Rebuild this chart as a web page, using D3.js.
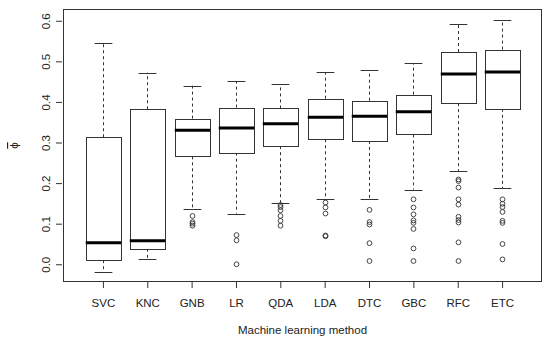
<!DOCTYPE html>
<html><head><meta charset="utf-8">
<script src="https://cdn.jsdelivr.net/npm/d3@7"></script>
<style>body{margin:0;background:#fff}svg{display:block}</style>
</head><body>
<svg id="c" width="550" height="341"></svg>
<script>
const methods = ["SVC","KNC","GNB","LR","QDA","LDA","DTC","GBC","RFC","ETC"];
const whiskerLow  = [-0.018, 0.013, 0.135, 0.125, 0.152, 0.160, 0.160, 0.184, 0.230, 0.187];
const q1          = [0.010, 0.038, 0.266, 0.275, 0.291, 0.308, 0.304, 0.320, 0.397, 0.383];
const medians     = [0.053, 0.058, 0.330, 0.336, 0.346, 0.362, 0.365, 0.376, 0.469, 0.474];
const q3          = [0.313, 0.382, 0.359, 0.386, 0.384, 0.408, 0.403, 0.418, 0.523, 0.529];
const whiskerHigh = [0.545, 0.472, 0.440, 0.451, 0.444, 0.474, 0.478, 0.495, 0.593, 0.603];
const outliers = [
  [],
  [],
  [0.119, 0.104, 0.100, 0.095],
  [0.072, 0.059, 0.0],
  [0.146, 0.141, 0.133, 0.119, 0.107, 0.095],
  [0.152, 0.140, 0.125, 0.071, 0.069],
  [0.134, 0.104, 0.098, 0.052, 0.008],
  [0.160, 0.140, 0.123, 0.108, 0.102, 0.087, 0.039, 0.008],
  [0.209, 0.205, 0.189, 0.160, 0.147, 0.117, 0.109, 0.103, 0.054, 0.008],
  [0.160, 0.149, 0.141, 0.129, 0.107, 0.102, 0.050, 0.012]
];
const yTicks = [0, 0.1, 0.2, 0.3, 0.4, 0.5, 0.6];
const xTitle = "Machine learning method";
const yTitle = "\u03D5";

const svg = d3.select("#c");
const L = 63, R = 542, T = 9, B = 282;
const font = "'Liberation Sans', Arial, sans-serif";
const ink = "#222";
const fs = 11.5;

const x = d3.scaleLinear().domain([0.1, 10.9]).range([L, R]);
const y = d3.scaleLinear().domain([-0.0437, 0.629]).range([B, T]);
const bw = x(1.8) - x(1);   // 0.8 box width in units
const sw = bw / 2;          // staple width

// frame
svg.append("rect").attr("x", L + 0.5).attr("y", T + 0.5)
  .attr("width", R - L - 1).attr("height", B - T - 1)
  .attr("fill", "none").attr("stroke", "#333").attr("stroke-width", 1);

// y axis
const yAxis = d3.axisLeft(y).tickValues(yTicks).tickFormat(d3.format(".1f")).tickSize(6).tickPadding(0);
const gy = svg.append("g").attr("transform", `translate(${L - 1},0)`).call(yAxis);
gy.select(".domain").remove();
gy.selectAll(".tick line").attr("stroke", "#333");
gy.selectAll(".tick text").attr("font-family", font).attr("font-size", fs).attr("fill", ink)
  .attr("x", null).attr("dy", null)
  .attr("text-anchor", "middle")
  .attr("transform", "translate(-16,0) rotate(-90)")
  .attr("y", 4);

// x axis
const gx = svg.append("g").attr("transform", `translate(0,${B})`)
  .call(d3.axisBottom(x).tickValues(d3.range(1, methods.length + 1)).tickFormat(i => methods[i - 1]).tickSize(6).tickPadding(0));
gx.select(".domain").remove();
gx.selectAll(".tick line").attr("stroke", "#333");
gx.selectAll(".tick text").attr("font-family", font).attr("font-size", fs).attr("fill", ink)
  .attr("y", 25).attr("dy", 0);

// titles
svg.append("text").attr("x", (L + R) / 2).attr("y", 334).attr("text-anchor", "middle")
  .attr("font-family", font).attr("font-size", fs).attr("fill", ink).text(xTitle);
svg.append("text").attr("transform", `translate(18,${(T + B) / 2}) rotate(-90)`).attr("text-anchor", "middle")
  .attr("font-family", font).attr("font-size", fs).attr("fill", ink)
  .style("text-decoration", "overline").text(yTitle);

// boxes
const data = methods.map((m, i) => ({
  m, i: i + 1, lo: whiskerLow[i], q1: q1[i], med: medians[i], q3: q3[i], hi: whiskerHigh[i], out: outliers[i]
}));
const g = svg.append("g");
data.forEach(d => {
  const cx = Math.round(x(d.i)) + 0.5;
  const gg = g.append("g");
  // whiskers
  gg.append("line").attr("x1", cx).attr("x2", cx).attr("y1", y(d.q3)).attr("y2", y(d.hi))
    .attr("stroke", "#333").attr("stroke-dasharray", "3,3");
  gg.append("line").attr("x1", cx).attr("x2", cx).attr("y1", y(d.q1)).attr("y2", y(d.lo))
    .attr("stroke", "#333").attr("stroke-dasharray", "3,3");
  // staples
  [d.hi, d.lo].forEach(v => {
    gg.append("line").attr("x1", cx - sw / 2).attr("x2", cx + sw / 2)
      .attr("y1", Math.round(y(v)) + 0.5).attr("y2", Math.round(y(v)) + 0.5).attr("stroke", "#333");
  });
  // box
  gg.append("rect").attr("x", Math.round(cx - bw / 2) + 0.5).attr("y", Math.round(y(d.q3)) + 0.5)
    .attr("width", Math.round(bw)).attr("height", Math.round(y(d.q1)) - Math.round(y(d.q3)))
    .attr("fill", "#fff").attr("stroke", "#333");
  // median
  gg.append("line").attr("x1", cx - bw / 2).attr("x2", cx + bw / 2)
    .attr("y1", y(d.med)).attr("y2", y(d.med)).attr("stroke", "#000").attr("stroke-width", 3);
  // outliers
  gg.selectAll("circle").data(d.out).join("circle")
    .attr("cx", cx).attr("cy", v => y(v)).attr("r", 2.4)
    .attr("fill", "none").attr("stroke", "#333").attr("stroke-width", 0.9);
});
</script>
</body></html>
